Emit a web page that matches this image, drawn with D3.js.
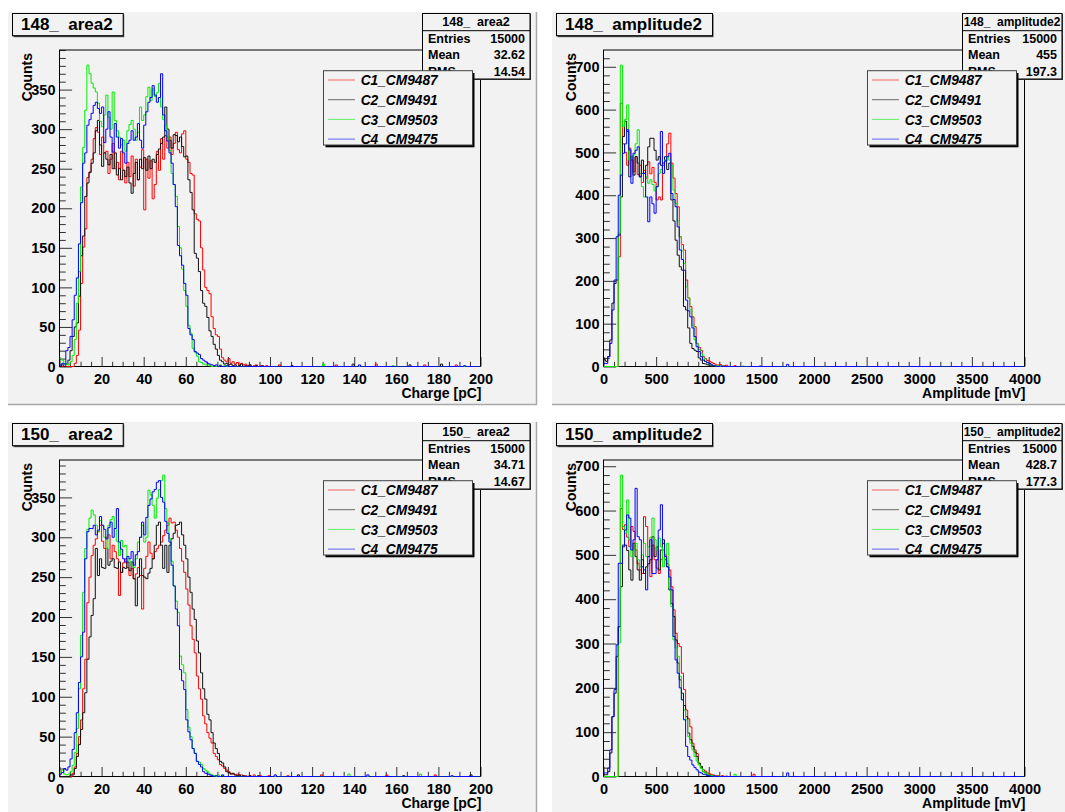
<!DOCTYPE html>
<html>
<head>
<meta charset="utf-8">
<script src="https://cdn.jsdelivr.net/npm/d3@7"></script>
<style>
  body { margin: 0; background: #fff; }
  text { font-family: "Liberation Sans", Arial, Helvetica, sans-serif; font-weight: bold; }
</style>
</head>
<body>
<script>
// 画布
var width = 1065;
var height = 812;

// 直方图：每个 200 bin
var nBins = 200;
var chargeRange = [0, 200];
var amplitudeRange = [0, 4000];

var seriesNames = ['C1_CM9487', 'C2_CM9491', 'C3_CM9503', 'C4_CM9475'];
var seriesColors = ['#ff0000', '#111111', '#00ee00', '#0000ff'];

var panelTitles = ['148_  area2', '148_  amplitude2', '150_  area2', '150_  amplitude2'];
var xTitles = ['Charge [pC]', 'Amplitude [mV]', 'Charge [pC]', 'Amplitude [mV]'];
var statsEntries = ['15000', '15000', '15000', '15000'];
var statsMean = ['32.62', '455', '34.71', '428.7'];
var statsRms = ['14.54', '197.3', '14.67', '177.3'];

// 刻度
var chargeTicks = [0, 20, 40, 60, 80, 100, 120, 140, 160, 180, 200];
var amplitudeTicks = [0, 500, 1000, 1500, 2000, 2500, 3000, 3500, 4000];
var areaCountTicks = [0, 50, 100, 150, 200, 250, 300, 350];
var ampCountTicks = [0, 100, 200, 300, 400, 500, 600, 700];

// 148 area2 (1 pC bins, bins after the list are empty)
var area148_C1 = [0,0,0,0,0,0,0,4,14,46, 105,151,174,239,246,262,288,302,296,268, 290,270,272,244,262,282,250,258,236,272, 248,232,258,240,266,228,262,236,252,274, 198,262,238,260,212,230,272,248,288,262, 292,276,290,268,282,296,274,270,294,298, 262,258,244,242,193,186,184,150,122,100, 96,92,63,48,40,38,22,11,8,6, 10,4,6,3,5,2,4,2,3,1, 2,0,1,2,0,1,0,0,1,0];
var area148_C2 = [0,2,0,3,8,20,38,50,55,89, 140,165,215,232,245,257,270,298,311,280, 253,270,262,255,268,250,270,242,250,236, 248,240,252,232,219,244,258,236,262,250, 264,248,266,250,262,258,268,275,282,290, 328,300,286,276,293,292,284,290,278,265, 266,236,220,198,143,137,120,96,80,76, 62,45,38,28,22,14,8,6,3,4, 2,3,1,2,0,1,3,0,1,0, 2,0,0,1,0,0,1,0,0,0];
var area148_C3 = [10,8,4,3,2,6,14,34,80,120, 227,277,324,381,370,358,352,347,333,310, 303,318,343,315,300,347,311,298,290,280, 286,272,298,306,311,300,286,296,328,311, 318,341,353,336,351,341,346,358,328,312, 305,290,273,244,230,215,177,150,123,96, 76,52,42,23,18,13,6,5,3,2, 2,1,0,1,0,0,2,0,1,0];
var area148_C4 = [2,4,3,20,24,38,59,90,112,155, 207,257,270,305,312,320,330,334,326,320, 328,283,300,322,290,271,307,290,276,288, 270,257,282,286,298,286,290,307,286,276, 305,322,334,340,355,343,334,340,370,318, 298,285,270,257,230,202,153,140,128,105, 90,48,40,34,19,17,15,10,8,6, 4,3,2,1,2,0,1,0,0,1];
// [series, bin, count]
var area148Blips = [[0,104,2],[1,110,1],[2,125,3],[0,131,2],[1,139,3],[3,142,2],[0,150,3],[2,158,1],[1,166,2],[0,173,2],[1,181,3],[0,188,2],[3,192,1]];

// 148 amplitude2 (20 mV bins)
var amp148_C1 = [0,0,0,0,0,0,0,256,615,520, 500,470,510,482,455,490,448,470,430,458, 440,478,450,465,430,389,396,389,470,480, 520,545,475,440,404,373,303,285,272,202, 160,140,116,93,54,45,38,23,18,14, 12,9,7,4,3,5,2,1,3,0];
var amp148_C2 = [16,12,23,62,148,194,202,307,396,537, 573,549,443,490,447,490,475,443,482,451, 470,513,533,533,505,482,490,470,475,490, 460,475,389,340,295,260,233,225,140,132, 90,54,42,38,35,20,15,7,6,4, 3,2,1,0,1,0,0,1,0,0];
var amp148_C3 = [0,0,0,0,0,0,0,311,704,560, 577,611,482,490,494,520,553,451,420,396, 443,428,436,425,410,420,451,460,475,482, 490,482,470,412,381,340,303,270,241,186, 160,132,96,62,54,40,31,20,12,9, 6,3,2,1,2,0,1,0,0,0];
var amp148_C4 = [7,7,23,54,132,202,303,400,447,498, 520,553,506,428,498,505,513,443,451,451, 396,338,396,380,358,420,475,549,451,480, 490,498,404,390,373,326,272,250,225,155, 130,116,90,70,46,35,23,15,12,9, 7,4,2,1,0,1,0,0,0,0];
var amp148Blips = [[0,62,2],[2,66,1],[3,87,5],[1,74,1]];

// 150 area2
var area150_C1 = [0,0,0,0,0,0,4,12,29,50, 71,110,147,218,250,277,290,298,307,315, 295,286,300,303,273,290,282,273,227,256, 268,273,262,252,261,248,254,262,252,210, 261,276,294,280,273,282,286,290,294,302, 309,315,324,318,319,309,300,286,270,256, 235,215,189,172,155,126,110,97,76,66, 55,48,42,29,25,21,15,13,10,8, 6,4,3,2,3,1,2,0,1,0, 1,0,2,0,0,1,0,0,0,1];
var area150_C2 = [0,0,0,0,0,2,2,10,25,40, 59,80,105,147,175,202,223,286,252,273, 262,261,286,265,270,273,262,261,269,256, 262,261,269,258,269,248,214,250,273,252, 250,248,255,261,273,290,315,319,290,261, 290,256,290,298,305,315,316,319,303,290, 273,250,231,210,197,170,155,130,110,97, 78,71,55,42,35,29,19,17,12,6, 5,3,4,2,1,2,0,1,0,0, 1,0,0,0,1,0,0,0,0,0];
var area150_C3 = [5,8,3,2,3,6,14,30,60,110, 177,231,286,310,324,334,328,315,307,321, 315,300,286,315,322,326,311,295,277,296, 288,290,273,270,265,262,273,294,300,315, 294,300,359,353,340,324,349,360,371,378, 336,318,298,270,239,220,206,151,140,130, 84,62,50,35,29,19,18,15,10,8, 6,3,2,1,0,2,0,1,0,0];
var area150_C4 = [3,5,10,8,12,22,34,55,80,118, 150,181,273,307,311,311,315,303,309,326, 315,310,298,312,319,300,311,336,294,285, 273,269,276,273,282,265,278,282,300,319, 303,325,340,348,357,360,369,371,350,344, 320,305,294,265,239,210,189,134,120,109, 71,56,46,35,29,19,15,12,6,4, 3,2,1,0,1,0,0,2,0,0];
var area150Blips = [[3,102,2],[0,108,1],[1,113,2],[0,124,2],[2,137,3],[3,146,2],[0,155,2],[1,163,1],[2,171,3],[0,178,2],[3,186,1],[1,195,2]];

// 150 amplitude2
var amp150_C1 = [0,0,0,0,0,0,0,338,605,557, 568,540,518,564,553,511,480,466,458,586, 564,496,451,522,489,470,458,489,511,500, 480,466,428,376,323,300,293,233,196,150, 130,112,75,60,52,30,20,15,12,8, 6,4,3,2,1,0,2,0,1,0];
var amp150_C2 = [4,4,11,53,135,188,271,338,428,522, 522,510,466,443,526,496,466,443,489,458, 473,480,489,541,496,518,466,511,534,489, 473,421,390,361,308,256,218,188,160,135, 98,83,68,55,45,30,23,11,8,4, 3,2,1,0,1,0,0,0,0,0];
var amp150_C3 = [0,0,0,0,0,0,0,301,680,564, 549,624,534,496,510,526,489,473,500,526, 496,518,540,583,534,511,538,518,473,500, 526,425,383,308,290,271,226,173,150,128, 90,75,60,45,35,26,18,11,8,5, 3,2,1,0,1,0,0,0,0,0];
var amp150_C4 = [8,8,19,60,135,196,297,481,481,518, 556,590,583,511,534,650,541,534,473,466, 421,496,534,458,458,489,556,613,526,496, 473,450,421,316,263,233,200,173,128,68, 45,37,26,20,15,10,8,5,4,2, 1,0,1,0,0,0,0,0,0,0];
var amp150Blips = [[0,71,5],[2,62,5],[3,87,8]];

var svg = d3.select('body')
            .append('svg')
            .attr('width', width)
            .attr('height', height);

// 画布上每个 pad 的布局
var padW = 529, padH = 393;
var fx0 = 51.5, fx1 = 472.5, fy0 = 38, fy1 = 354.5;

var panels = [
  {px: 8,   py: 12,  idx: 0, range: chargeRange,    xTicks: chargeTicks,    xMinor: 5,   yTicks: areaCountTicks, yMinor: 10,
   series: [area148_C1, area148_C2, area148_C3, area148_C4], blips: area148Blips, sbox: [414, 1, 108, 66], stFont: 12.5},
  {px: 552, py: 12,  idx: 1, range: amplitudeRange, xTicks: amplitudeTicks, xMinor: 100, yTicks: ampCountTicks,  yMinor: 20,
   series: [amp148_C1, amp148_C2, amp148_C3, amp148_C4], blips: amp148Blips, sbox: [410, 1, 100, 66], stFont: 12},
  {px: 8,   py: 422, idx: 2, range: chargeRange,    xTicks: chargeTicks,    xMinor: 5,   yTicks: areaCountTicks, yMinor: 10,
   series: [area150_C1, area150_C2, area150_C3, area150_C4], blips: area150Blips, sbox: [414, 1, 108, 66], stFont: 12.5},
  {px: 552, py: 422, idx: 3, range: amplitudeRange, xTicks: amplitudeTicks, xMinor: 100, yTicks: ampCountTicks,  yMinor: 20,
   series: [amp150_C1, amp150_C2, amp150_C3, amp150_C4], blips: amp150Blips, sbox: [410, 1, 100, 66], stFont: 12}
];

function fullBins(values, blips, s) {
  var out = [];
  for (var i = 0; i < nBins; i++) out.push(i < values.length ? values[i] : 0);
  blips.forEach(function(b){ if (b[0] === s) out[b[1]] = b[2]; });
  return out;
}

function drawPanel(p) {
  var g = svg.append('g').attr('transform', 'translate(' + p.px + ',' + p.py + ')');

  // pad
  g.append('rect').attr('width', padW).attr('height', padH).attr('fill', '#f2f2f2');
  g.append('path').attr('d', 'M' + (padW - 0.5) + ',0V' + (padH - 0.5) + 'H0')
    .attr('stroke', '#a8a8a8').attr('stroke-width', 1.5).attr('fill', 'none');

  var bins = p.series.map(function(v, s){ return fullBins(v, p.blips, s); });
  var ymax = d3.max(bins, function(b){ return d3.max(b); }) * 1.05;

  var x = d3.scaleLinear().domain(p.range).range([fx0, fx1]);
  var y = d3.scaleLinear().domain([0, ymax]).range([fy1, fy0]);

  // 坐标轴（刻度朝内）
  var minorY = d3.range(0, ymax, p.yMinor).filter(function(v){ return p.yTicks.indexOf(v) < 0; });
  var minorX = d3.range(p.range[0], p.range[1], p.xMinor).filter(function(v){ return p.xTicks.indexOf(v) < 0; });

  var yAxis = g.append('g').attr('transform', 'translate(' + fx0 + ',0)')
    .call(d3.axisLeft(y).tickValues(p.yTicks).tickFormat(d3.format('d'))
      .tickSizeInner(-12.6).tickSizeOuter(0).tickPadding(4));
  g.append('g').attr('transform', 'translate(' + fx0 + ',0)')
    .call(d3.axisLeft(y).tickValues(minorY).tickSizeInner(-6.3).tickSizeOuter(0).tickFormat(''))
    .select('.domain').remove();
  var xAxis = g.append('g').attr('transform', 'translate(0,' + fy1 + ')')
    .call(d3.axisBottom(x).tickValues(p.xTicks).tickFormat(d3.format('d'))
      .tickSizeInner(-9.5).tickSizeOuter(0).tickPadding(7));
  g.append('g').attr('transform', 'translate(0,' + fy1 + ')')
    .call(d3.axisBottom(x).tickValues(minorX).tickSizeInner(-4.7).tickSizeOuter(0).tickFormat(''))
    .select('.domain').remove();
  yAxis.select('.domain').remove();
  xAxis.select('.domain').remove();
  g.selectAll('.tick line').attr('stroke', '#333');
  g.selectAll('.tick text')
    .attr('font-size', 14.5)
    .attr('font-family', '"Liberation Sans", Arial, sans-serif')
    .attr('font-weight', 'bold')
    .attr('fill', '#000');

  // frame
  g.append('rect')
    .attr('x', fx0).attr('y', fy0)
    .attr('width', fx1 - fx0).attr('height', fy1 - fy0)
    .attr('fill', 'none').attr('stroke', '#000').attr('stroke-width', 1);

  // 直方图
  var clipId = 'clip' + p.idx;
  g.append('clipPath').attr('id', clipId)
    .append('rect').attr('x', fx0).attr('y', fy0 - 1)
    .attr('width', fx1 - fx0).attr('height', fy1 - fy0 + 2);

  var bw = (p.range[1] - p.range[0]) / nBins;
  var line = d3.line()
               .x(function(d){ return x(d[0]); })
               .y(function(d){ return y(d[1]); })
               .curve(d3.curveStepAfter);

  bins.forEach(function(b, s){
    var pts = b.map(function(v, i){ return [p.range[0] + i * bw, v]; });
    pts.push([p.range[1], b[nBins - 1]]);
    g.append('path')
      .attr('clip-path', 'url(#' + clipId + ')')
      .attr('d', line(pts))
      .attr('fill', 'none')
      .attr('stroke', seriesColors[s])
      .attr('stroke-width', 1);
  });

  // 轴标题
  g.append('text')
    .attr('x', fx1 + 1).attr('y', 386)
    .attr('text-anchor', 'end')
    .attr('font-size', 14)
    .text(xTitles[p.idx]);
  g.append('text')
    .attr('transform', 'translate(24,41) rotate(-90)')
    .attr('text-anchor', 'end')
    .attr('font-size', 14)
    .text('Counts');

  // 标题框
  var tt = g.append('text')
    .attr('x', 13).attr('y', 17.6)
    .attr('font-size', 17)
    .style('white-space', 'pre')
    .text(panelTitles[p.idx]);
  var tw = tt.node().getComputedTextLength();
  g.insert('rect', function(){ return tt.node(); })
    .attr('x', 5.5).attr('y', 2.5).attr('width', tw + 19).attr('height', 22.7)
    .attr('fill', '#444');
  g.insert('rect', function(){ return tt.node(); })
    .attr('x', 4.5).attr('y', 1.5).attr('width', tw + 19).attr('height', 22.2)
    .attr('fill', '#f2f2f2').attr('stroke', '#000');

  // 统计框
  var sb = p.sbox;
  g.append('rect').attr('x', sb[0] + 1).attr('y', sb[1] + 1).attr('width', sb[2]).attr('height', sb[3]).attr('fill', '#444');
  g.append('rect').attr('x', sb[0] + 0.5).attr('y', sb[1] + 0.5).attr('width', sb[2] - 0.5).attr('height', sb[3] - 0.5)
    .attr('fill', '#f2f2f2').attr('stroke', '#000');
  g.append('line').attr('x1', sb[0]).attr('x2', sb[0] + sb[2]).attr('y1', 18.7).attr('y2', 18.7).attr('stroke', '#000');
  g.append('text')
    .attr('x', sb[0] + sb[2] / 2).attr('y', 14)
    .attr('text-anchor', 'middle').attr('font-size', p.stFont)
    .style('white-space', 'pre')
    .text(panelTitles[p.idx]);
  var rows = [['Entries', statsEntries[p.idx]], ['Mean', statsMean[p.idx]], ['RMS', statsRms[p.idx]]];
  rows.forEach(function(r, i){
    var yy = 30.7 + i * 16.5;
    g.append('text').attr('x', sb[0] + 6).attr('y', yy).attr('font-size', 12.5).text(r[0]);
    g.append('text').attr('x', sb[0] + sb[2] - 5).attr('y', yy).attr('text-anchor', 'end').attr('font-size', 12.5).text(r[1]);
  });

  // 图例（盖住统计框底部，同原图）
  g.append('rect').attr('x', 317.5).attr('y', 61).attr('width', 149).attr('height', 74.3).attr('fill', '#000');
  g.append('rect').attr('x', 315.5).attr('y', 58.7).attr('width', 149).attr('height', 74.3)
    .attr('fill', '#f2f2f2').attr('stroke', '#444');
  seriesNames.forEach(function(name, i){
    var cy = 68 + i * 19.7;
    g.append('line').attr('x1', 320).attr('x2', 347).attr('y1', cy).attr('y2', cy)
      .attr('stroke', seriesColors[i]).attr('stroke-width', 1).attr('opacity', 0.6);
    g.append('text').attr('x', 352.7).attr('y', cy + 5.2)
      .attr('font-size', 15).attr('font-style', 'italic')
      .attr('textLength', 77).attr('lengthAdjust', 'spacingAndGlyphs')
      .text(name);
  });
}

panels.forEach(drawPanel);
</script>
</body>
</html>
